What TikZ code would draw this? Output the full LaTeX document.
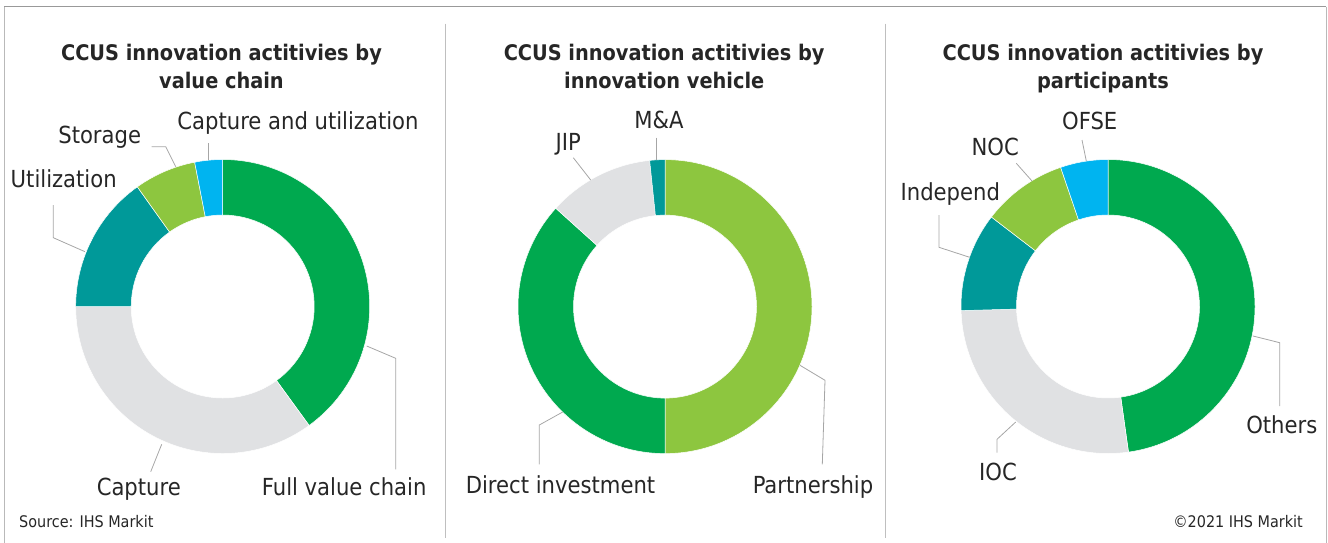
\documentclass[tikz,border=0pt]{standalone}
\usepackage{fontspec}
\setmainfont{DejaVu Sans Condensed}
\definecolor{txt}{HTML}{262626}
\definecolor{leadgray}{HTML}{A6A6A6}
\definecolor{sepgray}{HTML}{BFBFBF}
\definecolor{mkgreen}{HTML}{00A94F}
\definecolor{mklime}{HTML}{8DC63F}
\definecolor{mkteal}{HTML}{009999}
\definecolor{mkblue}{HTML}{00B4F0}
\definecolor{mkgray}{HTML}{E0E1E3}
\begin{document}
\begin{tikzpicture}[x=1pt,y=1pt,
  lbl/.style={anchor=base,inner sep=0pt,text=txt,font=\fontsize{23.5}{28}\selectfont},
  ttl/.style={anchor=north,inner sep=0pt,align=center,text=txt,font=\bfseries\fontsize{21.5}{28.3}\selectfont},
  note/.style={inner sep=0pt,text=txt,font=\fontsize{16}{19}\selectfont},
  leader/.style={draw=leadgray,line width=0.8pt},
  part/.style={draw=white,line width=0.5pt}]
  \useasboundingbox (0,-542) rectangle (1328,0);
  \draw[gray!80,line width=0.8pt] (4,-6.5) -- (1326,-6.5);
  \draw[gray!55,line width=0.8pt] (4,-545) -- (4,-6.5) (1326,-6.5) -- (1326,-545);
  \draw[sepgray,line width=0.8pt] (445,-23.5) -- (445,-538) (885,-23.5) -- (885,-538);

  \coordinate (vc) at (222.7,-306.5);
  \coordinate (iv) at (665,-306.6);
  \coordinate (pa) at (1108,-306.5);
  \foreach \a/\b/\c in {90/-54/mkgreen,-54/-180/mkgray,180/125.5/mkteal,125.5/101/mklime,101/90/mkblue}
    \filldraw[part,fill=\c] ([shift={(vc)}]\a:147) arc[start angle=\a,end angle=\b,radius=147] -- ([shift={(vc)}]\b:91.5) arc[start angle=\b,end angle=\a,radius=91.5] -- cycle;
  \foreach \a/\b/\c in {90/-90/mklime,270/138/mkgreen,138/96/mkgray,96/90/mkteal}
    \filldraw[part,fill=\c] ([shift={(iv)}]\a:147) arc[start angle=\a,end angle=\b,radius=147] -- ([shift={(iv)}]\b:91.5) arc[start angle=\b,end angle=\a,radius=91.5] -- cycle;
  \foreach \a/\b/\c in {90/-82/mkgreen,-82/-178.4/mkgray,181.6/142.5/mkteal,142.5/108.8/mklime,108.8/90/mkblue}
    \filldraw[part,fill=\c] ([shift={(pa)}]\a:147) arc[start angle=\a,end angle=\b,radius=147] -- ([shift={(pa)}]\b:91.5) arc[start angle=\b,end angle=\a,radius=91.5] -- cycle;

  \node[ttl] (vct) at (221.5,-43.7) {CCUS innovation actitivies by\\value chain};
  \node[ttl] (ivt) at (664.2,-43.7) {CCUS innovation actitivies by\\innovation vehicle};
  \node[ttl] (pat) at (1103,-43.7) {CCUS innovation actitivies by\\participants};

  \node[lbl] (cu) at (298,-129.3) {Capture and utilization};
  \node[lbl] (sto) at (99.7,-143.3) {Storage};
  \node[lbl] (uti) at (63.7,-187.7) {Utilization};
  \node[lbl] (cap) at (138.8,-495.5) {Capture};
  \node[lbl] (fvc) at (344.2,-495.5) {Full value chain};
  \node[lbl] (ma) at (659,-128.3) {M\&A};
  \node[lbl] (jip) at (568.3,-150) {JIP};
  \node[lbl] (di) at (560.5,-493.7) {Direct investment};
  \node[lbl] (par) at (813,-493.7) {Partnership};
  \node[lbl] (ofse) at (1089.7,-129.3) {OFSE};
  \node[lbl] (noc) at (995.2,-155.7) {NOC};
  \node[lbl] (ind) at (950.3,-200) {Independ};
  \node[lbl] (oth) at (1281.8,-433.3) {Others};
  \node[lbl] (ioc) at (998,-480.3) {IOC};

  \node[note,anchor=base west] (src) at (19,-527.7) {Source: IHS Markit};
  \node[note,anchor=base east] (cpy) at (1303,-527.7) {©2021 IHS Markit};

  \coordinate (cu-a) at (208.3,-143.3);   \coordinate (cu-b) at (208.3,-159.5);
  \coordinate (sto-a) at (151.7,-146.7);  \coordinate (sto-b) at (175.7,-166.7);
  \coordinate (uti-a) at (53.3,-205);     \coordinate (uti-b) at (85,-251.7);
  \coordinate (cap-a) at (150.7,-471.7);  \coordinate (cap-b) at (161.7,-444.3);
  \coordinate (fvc-a) at (395.7,-469.3);  \coordinate (fvc-b) at (366.7,-346);
  \coordinate (ma-a) at (656.7,-137.7);   \coordinate (ma-b) at (656.7,-160);
  \coordinate (jip-a) at (573.3,-157.7);  \coordinate (jip-b) at (590.7,-180);
  \coordinate (di-a) at (539.3,-464.3);   \coordinate (di-b) at (562.7,-412);
  \coordinate (par-a) at (822.3,-464.3);  \coordinate (par-b) at (800,-365.3);
  \coordinate (ofse-a) at (1082,-140);    \coordinate (ofse-b) at (1086.3,-161);
  \coordinate (noc-a) at (1016.3,-163.3); \coordinate (noc-b) at (1032,-181);
  \coordinate (ind-a) at (939,-215);      \coordinate (ind-b) at (969.7,-257.3);
  \coordinate (oth-a) at (1279.7,-406);   \coordinate (oth-b) at (1253,-336);
  \coordinate (ioc-a) at (997,-452.7);    \coordinate (ioc-b) at (1015.7,-422);

  \draw[leader] (cu-a) -- (cu-b);
  \draw[leader] (sto-a) -- ++(14,0) -- (sto-b);
  \draw[leader] (uti-a) -- ++(0,-32.7) -- (uti-b);
  \draw[leader] (cap-a) -- (cap-b);
  \draw[leader] (fvc-a) -- ++(0,111) -- (fvc-b);
  \draw[leader] (ma-a) -- (ma-b);
  \draw[leader] (jip-a) -- (jip-b);
  \draw[leader] (di-a) -- ++(0,39.3) -- (di-b);
  \draw[leader] (par-a) -- ++(2.7,84) -- (par-b);
  \draw[leader] (ofse-a) -- (ofse-b);
  \draw[leader] (noc-a) -- (noc-b);
  \draw[leader] (ind-a) -- ++(0,-32.3) -- (ind-b);
  \draw[leader] (oth-a) -- ++(0,63.3) -- (oth-b);
  \draw[leader] (ioc-a) -- ++(0,13.4) -- (ioc-b);
\end{tikzpicture}
\end{document}
